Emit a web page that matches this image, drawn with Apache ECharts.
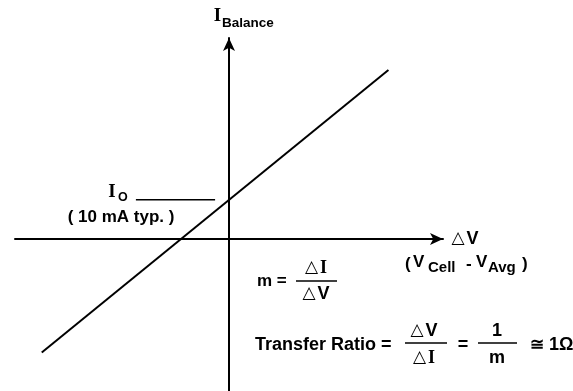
<!DOCTYPE html>
<html><head><meta charset="utf-8">
<script src="https://cdn.jsdelivr.net/npm/echarts@6/dist/echarts.min.js"></script>
<style>html,body{margin:0;padding:0;background:#fff}#c{width:573px;height:391px}</style>
</head><body><div id="c"></div>
<script>
// ---- data (schematic units) ----
const xRange = [-10, 10];          // ΔV axis extent
const yRange = [-7.1, 9.4];        // I_Balance axis extent
const balanceLine = [[-8.75, -5.3], [7.45, 7.9]];  // transfer characteristic
const ioLevel = 1.84;              // I_O offset current (line intercept at ΔV = 0)
const ioMarkerX = [-4.35, -0.65];  // extent of the I_O leader line
const ioMarker = ioMarkerX.map(x => [x, ioLevel]);

const SANS = '"Liberation Sans", Arial, sans-serif';
const SERIF = '"Liberation Serif", "Times New Roman", serif';
const TRI = '"DejaVu Sans", sans-serif';
const B = (s, fam) => 'bold ' + s + 'px ' + (fam || SANS);

function t(x, y, text, font, align, valign) {
  return { type: 'text', x: x, y: y, silent: true,
    style: { text: text, font: font, fill: '#000', align: align || 'left', verticalAlign: valign || 'middle' } };
}
// "△X" with a triangle and either sans or serif letter
function delta(x, y, letter, size, serif) {
  return { type: 'text', x: x, y: y, silent: true,
    style: { text: '{d|△}{l|' + letter + '}', fill: '#000', align: 'center', verticalAlign: 'middle',
      rich: {
        d: { font: 'bold ' + (size - 1) + 'px ' + TRI, fill: '#000' },
        l: { font: B(size, serif ? SERIF : SANS), fill: '#000', padding: [0, 0, 0, 2] }
      } } };
}
function bar(x1, x2, y, w) {
  return { type: 'line', silent: true, shape: { x1: x1, y1: y, x2: x2, y2: y },
    style: { stroke: '#000', lineWidth: w || 1.5 } };
}

const chart = echarts.init(document.getElementById('c'), null, { renderer: 'canvas' });
const axisCommon = {
  type: 'value',
  axisLine: { onZero: true, lineStyle: { color: '#000', width: 2 },
    symbol: ['none', 'arrow'], symbolSize: [9, 13], symbolOffset: [0, 0] },
  axisTick: { show: false }, axisLabel: { show: false }, splitLine: { show: false }
};
chart.setOption({
  animation: false,
  backgroundColor: '#fff',
  grid: { left: 15, top: 38, width: 428, height: 353 },
  xAxis: Object.assign({ min: xRange[0], max: xRange[1] }, axisCommon),
  yAxis: Object.assign({ min: yRange[0], max: yRange[1] }, axisCommon),
  series: [
    { type: 'line', data: balanceLine, symbol: 'none', lineStyle: { color: '#000', width: 2 } },
    { type: 'line', data: ioMarker, symbol: 'none', lineStyle: { color: '#000', width: 1.5 } }
  ],
  graphic: [
    // I_Balance
    t(217.5, 16, 'I', B(19, SERIF), 'center'),
    t(222, 23.5, 'Balance', B(13.5)),
    // I_O
    t(112, 192, 'I', B(19, SERIF), 'center'),
    t(118, 198, 'O', B(12.5)),
    t(121, 217, '( 10 mA typ. )', B(17), 'center'),
    // ΔV axis label
    delta(465, 239, 'V', 18),
    t(405, 264, '(', B(17)),
    t(413, 262, 'V', B(17)),
    t(428, 268, 'Cell', B(15)),
    t(466, 264, '-', B(17)),
    t(476, 262, 'V', B(17)),
    t(488, 268, 'Avg', B(15)),
    t(522, 264, ')', B(17)),
    // m = ΔI / ΔV
    t(257, 281, 'm =', B(17)),
    delta(316, 268, 'I', 18, true),
    bar(296, 337, 281),
    delta(316, 294, 'V', 18),
    // Transfer Ratio
    t(255, 345, 'Transfer Ratio =', B(18)),
    delta(424, 331, 'V', 18),
    bar(405, 447, 343),
    delta(424, 358, 'I', 18, true),
    t(463, 345, '=', B(18), 'center'),
    t(497, 331, '1', B(18), 'center'),
    bar(478, 517, 343),
    t(497, 358, 'm', B(18), 'center'),
    t(537, 345, '≅', B(17), 'center'),
    t(549, 345, '1Ω', B(18))
  ]
});
</script></body></html>
